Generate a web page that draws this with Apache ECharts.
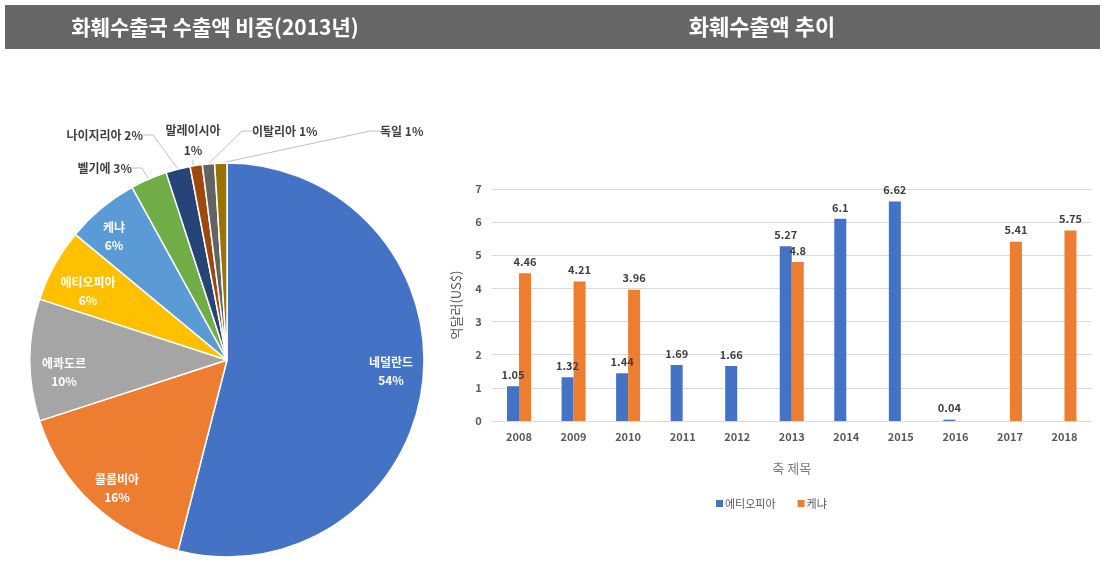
<!DOCTYPE html>
<html>
<head>
<meta charset="utf-8">
<script src="https://cdn.jsdelivr.net/npm/echarts@6/dist/echarts.min.js"></script>
<style>
  html, body { margin: 0; padding: 0; background: #fff; }
  #main { width: 1102px; height: 561px; }
</style>
</head>
<body>
<div id="main"></div>
<script>
// 2013 share by destination country (%)
const pieNames = ["네덜란드", "콜롬비아", "에콰도르", "에티오피아", "케냐", "벨기에", "나이지리아", "말레이시아", "이탈리아", "독일"];
const pieValues = [54, 16, 10, 6, 6, 3, 2, 1, 1, 1];
const pieColors = ["#4472C4", "#ED7D31", "#A5A5A5", "#FFC000", "#5B9BD5", "#70AD47", "#264478", "#9E480E", "#636363", "#997300"];

// export trend (억달러)
const years = ["2008", "2009", "2010", "2011", "2012", "2013", "2014", "2015", "2016", "2017", "2018"];
const ethiopia = [1.05, 1.32, 1.44, 1.69, 1.66, 5.27, 6.1, 6.62, 0.04, null, null];
const kenya = [4.46, 4.21, 3.96, null, null, 4.8, null, null, null, 5.41, 5.75];

const FONT = "Noto Sans CJK KR";
const insideCount = 5;

// where each pie label sits (inside ones centred, outside ones with leader lines)
const labelSpots = [
  { x: 391, y: 371, align: "center" },
  { x: 117, y: 488, align: "center" },
  { x: 64, y: 372, align: "center" },
  { x: 88, y: 291, align: "center" },
  { x: 114, y: 236, align: "center" },
  { x: 132, y: 168, align: "right" },
  { x: 143, y: 135, align: "right" },
  { x: 193, y: 140, align: "center" },
  { x: 252, y: 131, align: "left" },
  { x: 380, y: 131, align: "left" }
];

const pieData = pieNames.map((name, i) => {
  const inside = i < insideCount;
  return {
    name: name,
    value: pieValues[i],
    itemStyle: { color: pieColors[i] },
    label: inside
      ? { position: "inside", color: "#fff", formatter: "{b}\n{c}%", lineHeight: 18 }
      : { position: "outside", color: "#404040",
          formatter: name === "말레이시아" ? "{b}\n{c}%" : "{b} {c}%", lineHeight: 20 },
    labelLine: { show: !inside }
  };
});

const chart = echarts.init(document.getElementById("main"));
chart.setOption({
  animation: false,
  textStyle: { fontFamily: FONT },
  graphic: [
    { type: "rect", shape: { x: 5, y: 5, width: 1095, height: 44 }, style: { fill: "#666666" }, silent: true },
    { type: "text", x: 215, y: 27, style: { text: "화훼수출국 수출액 비중(2013년)", fill: "#fff", font: "bold 21px '" + FONT + "'", textAlign: "center", textVerticalAlign: "middle" } },
    { type: "text", x: 762, y: 27, style: { text: "화훼수출액 추이", fill: "#fff", font: "bold 22px '" + FONT + "'", textAlign: "center", textVerticalAlign: "middle" } }
  ],
  legend: {
    data: ["에티오피아", "케냐"],
    left: 711,
    top: 493,
    icon: "rect",
    itemWidth: 7,
    itemHeight: 7,
    itemGap: 22,
    textStyle: { color: "#595959", fontSize: 11, fontFamily: FONT, padding: [0, 0, 0, -3] }
  },
  grid: { left: 491.75, right: 10.25, top: 189, bottom: 140 },
  xAxis: {
    type: "category",
    data: years,
    name: "축 제목",
    nameLocation: "middle",
    nameGap: 41,
    nameTextStyle: { color: "#7f7f7f", fontSize: 13 },
    axisTick: { show: false },
    axisLine: { lineStyle: { color: "#d9d9d9" } },
    axisLabel: { color: "#595959", fontSize: 11, fontWeight: "bold", margin: 10 }
  },
  yAxis: {
    type: "value",
    min: 0,
    max: 7,
    interval: 1,
    name: "억달러(US$)",
    nameLocation: "middle",
    nameRotate: 90,
    nameGap: 29,
    nameTextStyle: { color: "#595959", fontSize: 13 },
    axisLabel: { color: "#595959", fontSize: 11, fontWeight: "bold", margin: 10 },
    splitLine: { lineStyle: { color: "#d9d9d9" } }
  },
  series: [
    {
      type: "pie",
      center: [227, 360],
      radius: 197,
      startAngle: 90,
      clockwise: true,
      avoidLabelOverlap: false,
      itemStyle: { borderColor: "#fff", borderWidth: 1.5 },
      label: { fontSize: 12, fontWeight: "bold", fontFamily: FONT },
      labelLine: { lineStyle: { color: "#bfbfbf", width: 1 }, length: 10, length2: 10 },
      labelLayout: function (p) {
        const s = labelSpots[p.dataIndex];
        return { x: s.x, y: s.y, align: s.align, verticalAlign: "middle" };
      },
      data: pieData
    },
    {
      name: "에티오피아",
      type: "bar",
      data: ethiopia,
      barWidth: 12,
      barGap: "0%",
      itemStyle: { color: "#4472C4" },
      label: { show: true, position: "top", distance: 6, color: "#404040", fontSize: 11, fontWeight: "bold" }
    },
    {
      name: "케냐",
      type: "bar",
      data: kenya,
      barWidth: 12,
      barGap: "0%",
      itemStyle: { color: "#ED7D31" },
      label: { show: true, position: "top", distance: 6, color: "#404040", fontSize: 11, fontWeight: "bold" }
    }
  ]
});
</script>
</body>
</html>
